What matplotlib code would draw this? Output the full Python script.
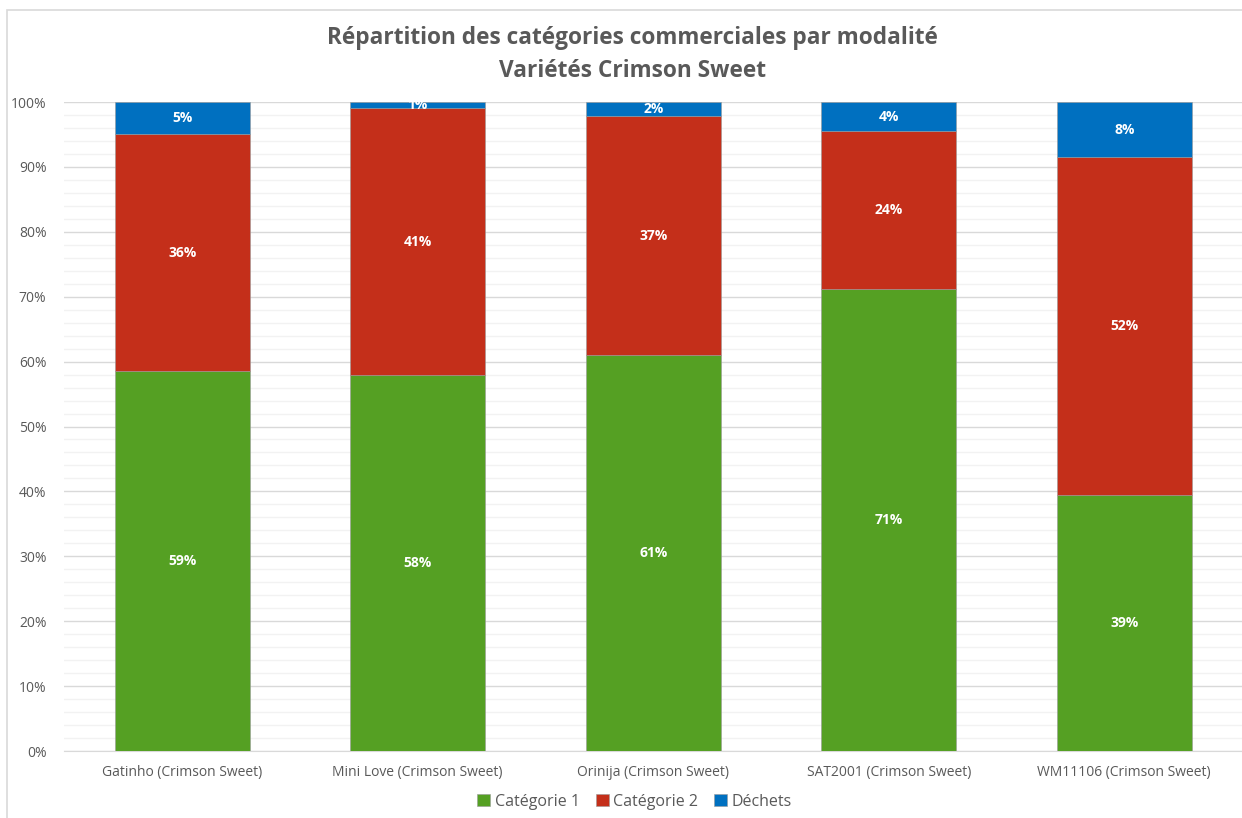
import numpy as np
import matplotlib
matplotlib.use("Agg")
import matplotlib.pyplot as plt
from matplotlib.patches import Rectangle
from matplotlib.ticker import MultipleLocator, FuncFormatter

plt.rcParams['font.family'] = ['Open Sans', 'DejaVu Sans']

varietes = ['Gatinho (Crimson Sweet)', 'Mini Love (Crimson Sweet)', 'Orinija (Crimson Sweet)',
            'SAT2001 (Crimson Sweet)', 'WM11106 (Crimson Sweet)']
cat1 = [58.6, 57.9, 61.0, 71.2, 39.4]
cat2 = [36.4, 41.2, 36.8, 24.3, 52.1]
dechets = [5.0, 0.9, 2.2, 4.5, 8.5]
series = ['Catégorie 1', 'Catégorie 2', 'Déchets']
couleurs = ['#55A023', '#C42F1A', '#0070C0']

fig = plt.figure(figsize=(12.42, 8.18), dpi=100)
ax = fig.add_axes([0.0519, 0.0819, 0.9481, 0.7934])

# cadre du graphique
fig.patches.append(Rectangle((7 / 1242, -0.1), 1.2, 1 - 10 / 818 + 0.1, transform=fig.transFigure,
                             fill=False, edgecolor='#D9D9D9', linewidth=1.2))

x = np.arange(len(varietes))
bas = np.zeros(len(varietes))
for nom, vals, c in zip(series, [cat1, cat2, dechets], couleurs):
    vals = np.array(vals)
    ax.bar(x, vals, 0.573, bottom=bas, color=c, label=nom, zorder=3,
           edgecolor='#9a9a9a', linewidth=0.4)
    for xi, b, v in zip(x, bas, vals):
        ax.text(xi, b + v / 2, '%d%%' % round(v), ha='center', va='center',
                color='white', fontsize=10, fontweight='bold', zorder=4)
    bas += vals

ax.set_xlim(-0.5, len(varietes) - 0.5)
ax.set_ylim(0, 100)
ax.yaxis.set_major_locator(MultipleLocator(10))
ax.yaxis.set_minor_locator(MultipleLocator(2))
ax.yaxis.set_major_formatter(FuncFormatter(lambda v, p: '%d%%' % v))
ax.grid(axis='y', which='major', color='#D9D9D9', linewidth=1.0, zorder=0)
ax.grid(axis='y', which='minor', color='#F2F2F2', linewidth=1.0, zorder=0)
ax.set_xticks(x)
ax.set_xticklabels(varietes)
ax.tick_params(axis='both', which='both', length=0, colors='#595959', labelsize=10)
ax.tick_params(axis='x', pad=10)
ax.tick_params(axis='y', pad=13)
for s in ['top', 'right', 'left']:
    ax.spines[s].set_visible(False)
ax.spines['bottom'].set_color('#D9D9D9')

fig.text(0.509, 0.953, 'Répartition des catégories commerciales par modalité', ha='center', va='center',
         fontsize=16.3, fontweight='bold', color='#595959')
fig.text(0.509, 0.913, 'Variétés Crimson Sweet', ha='center', va='center',
         fontsize=16.3, fontweight='bold', color='#595959')

leg = fig.legend(loc='center', bbox_to_anchor=(0.511, 0.02), ncol=3, frameon=False,
                 fontsize=11.5, handlelength=0.8, handleheight=0.8, handletextpad=0.3, columnspacing=1.0)
for t in leg.get_texts():
    t.set_color('#595959')

fig.savefig('out.png', dpi=100)
